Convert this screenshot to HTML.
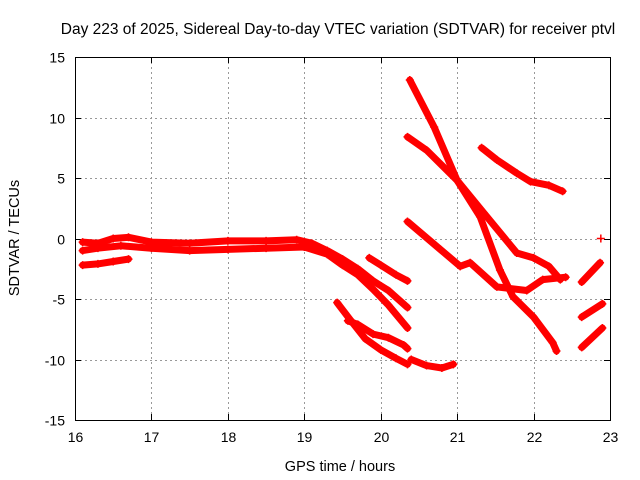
<!DOCTYPE html>
<html><head><meta charset="utf-8"><style>
body{margin:0;background:#fff}
svg{display:block;font-family:"Liberation Sans",sans-serif}
</style></head><body>
<svg id="chart" width="640" height="480" viewBox="0 0 640 480">
<text x="338" y="34" font-size="15.5" text-anchor="middle">Day 223 of 2025, Sidereal Day-to-day VTEC variation (SDTVAR) for receiver ptvl</text>
<text x="340" y="471" font-size="14.5" text-anchor="middle">GPS time / hours</text>
<text transform="translate(19,238) rotate(-90)" font-size="14.5" text-anchor="middle">SDTVAR / TECUs</text>
<g id="grid"></g>
<g id="ticks"></g>
<g id="series"></g>
<rect x="75.5" y="57.5" width="535" height="363" fill="none" stroke="#000" stroke-width="1"/>
</svg>
<script>
const xTicks=[16,17,18,19,20,21,22,23];
const yTicks=[-15,-10,-5,0,5,10,15];
const track1=[[16.1,-2.2],[16.3,-2.1],[16.5,-1.9],[16.7,-1.7]];
const track2=[[16.1,-0.3],[16.3,-0.4],[16.5,0],[16.7,0.1],[17.0,-0.3],[17.5,-0.4],[18,-0.2],[18.5,-0.2],[18.9,-0.1],[19.1,-0.4],[19.3,-1.0],[19.5,-1.7],[19.7,-2.5],[19.9,-3.5],[20.1,-4.3],[20.35,-5.7]];
const track3=[[16.1,-1.0],[16.3,-0.8],[16.6,-0.6],[17,-0.8],[17.5,-1.0],[18,-0.9],[18.5,-0.8],[19,-0.7],[19.3,-1.3],[19.5,-2.2],[19.7,-3.0],[19.9,-4.2],[20.1,-5.5],[20.35,-7.4]];
const track4=[[19.85,-1.6],[20.0,-2.2],[20.2,-3.0],[20.35,-3.5]];
const track5=[[19.43,-5.3],[19.6,-6.7],[19.8,-8.3],[20.0,-9.2],[20.2,-9.9],[20.35,-10.4]];
const track6=[[19.57,-6.8],[19.7,-7.1],[19.9,-7.9],[20.1,-8.2],[20.3,-8.8],[20.35,-9.1]];
const track7=[[20.4,-10.0],[20.6,-10.5],[20.8,-10.7],[20.95,-10.4]];
const track8=[[20.38,13.1],[20.7,9.2],[21.0,4.8],[21.3,1.8],[21.56,-2.6],[21.73,-4.8],[22.0,-6.5],[22.25,-8.6],[22.3,-9.3]];
const track9=[[20.35,8.4],[20.6,7.3],[21.0,4.8],[21.35,2.1],[21.78,-1.2],[22.0,-1.6],[22.2,-2.3],[22.35,-3.4]];
const track10=[[21.32,7.5],[21.52,6.5],[21.78,5.4],[21.96,4.7],[22.2,4.4],[22.38,3.9]];
const track11=[[20.35,1.4],[20.78,-0.9],[21.04,-2.3],[21.17,-2.0],[21.52,-4.0],[21.91,-4.3],[22.12,-3.4],[22.42,-3.2]];
const track12=[[22.63,-3.6],[22.87,-2.0]];
const track13=[[22.63,-6.5],[22.9,-5.4]];
const track14=[[22.63,-9.0],[22.9,-7.4]];
const track15=[[22.88,0]];
const tracks=[track1,track2,track3,track4,track5,track6,track7,track8,track9,track10,track11,track12,track13,track14,track15];

const X0=75,X1=610,Y0=420,Y1=57;
const sx=h=>X0+(h-16)/7*(X1-X0);
const sy=v=>Y0-(v+15)/30*(Y0-Y1);
const NS="http://www.w3.org/2000/svg";
const grid=document.getElementById('grid'),ticks=document.getElementById('ticks'),ser=document.getElementById('series');
function mk(tag,attrs,parent){const e=document.createElementNS(NS,tag);for(const k in attrs)e.setAttribute(k,attrs[k]);parent.appendChild(e);return e;}
xTicks.forEach(t=>{
  const x=Math.round(sx(t))+0.5;
  if(t>16&&t<23){const g=mk('line',{x1:x,x2:x,y1:Y1,y2:Y0,stroke:'#999','stroke-dasharray':'2,3'},grid);
  
  }
  mk('line',{x1:x,x2:x,y1:Y0,y2:Y0-6,stroke:'#000'},ticks);
  mk('line',{x1:x,x2:x,y1:Y1,y2:Y1+6,stroke:'#000'},ticks);
  const l=mk('text',{x:x,y:Y0+22,'font-size':'14','text-anchor':'middle'},ticks);
  l.textContent=t;
  
  
});
yTicks.forEach(t=>{
  const y=Math.round(sy(t))+0.5;
  if(t>-15&&t<15){const g=mk('line',{x1:X0,x2:X1,y1:y,y2:y,stroke:'#999','stroke-dasharray':'2,3'},grid);
  
  }
  mk('line',{x1:X0,x2:X0+6,y1:y,y2:y,stroke:'#000'},ticks);
  mk('line',{x1:X1,x2:X1-6,y1:y,y2:y,stroke:'#000'},ticks);
  const l=mk('text',{x:X0-10,y:y+5,'font-size':'14','text-anchor':'end'},ticks);
  l.textContent=t;
  
  
});
tracks.forEach((tr,i)=>{
  const g=mk('g',{},ser);
  
  
  if(tr.length>1){
    mk('polyline',{points:tr.map(p=>sx(p[0]).toFixed(1)+','+sy(p[1]).toFixed(1)).join(' '),fill:'none',stroke:'#f00','stroke-width':'7','stroke-linejoin':'round','stroke-linecap':'round'},g);
  }
  tr.forEach(p=>{
    const x=sx(p[0]),y=sy(p[1]);
    mk('path',{d:`M${x-4},${y}H${x+4}M${x},${y-4}V${y+4}`,stroke:'#f00','stroke-width':'1.5'},g);
  });
});
</script>
</body></html>
